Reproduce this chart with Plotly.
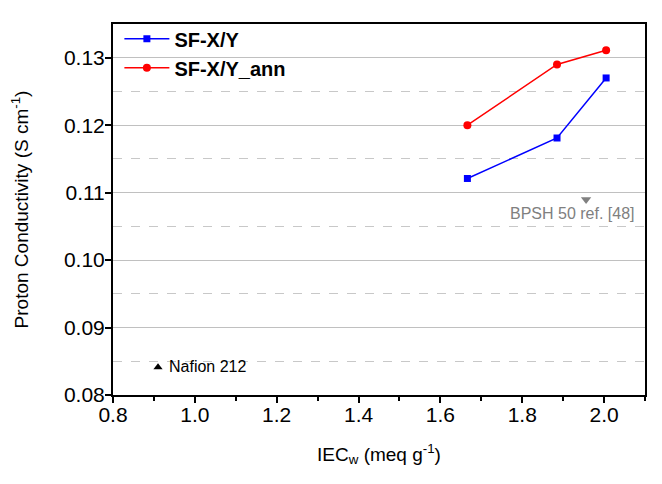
import plotly.graph_objects as go

# IEC_w (meq/g) and proton conductivity (S/cm)
iec = [1.666, 1.885, 2.005]
sfxy = [0.1121, 0.1181, 0.1270]
sfxy_ann = [0.1200, 0.1290, 0.1311]

nafion_x = [0.91]
nafion_y = [0.0841]
bpsh_x = [1.956]
bpsh_y = [0.1090]

FONT = "Liberation Sans, Arial, sans-serif"

fig = go.Figure()

fig.add_trace(go.Scatter(
    x=iec, y=sfxy, name="SF-X/Y", mode="lines+markers",
    line=dict(color="#0000ff", width=1.5),
    marker=dict(symbol="square", size=7, color="#0000ff")))

fig.add_trace(go.Scatter(
    x=iec, y=sfxy_ann, name="SF-X/Y_ann", mode="lines+markers",
    line=dict(color="#ff0000", width=1.5),
    marker=dict(symbol="circle", size=8, color="#ff0000")))

# reference points
fig.add_trace(go.Scatter(
    x=nafion_x, y=nafion_y, mode="markers", showlegend=False,
    marker=dict(symbol="triangle-up", size=8, color="black")))

fig.add_annotation(x=nafion_x[0], y=nafion_y[0], text="Nafion 212",
                   showarrow=False, xanchor="left", yanchor="middle", xshift=9, yshift=1,
                   font=dict(family=FONT, size=16, color="black"))

fig.add_trace(go.Scatter(
    x=bpsh_x, y=bpsh_y, mode="markers", showlegend=False,
    marker=dict(symbol="triangle-down", size=9, color="#808080")))

fig.add_annotation(x=bpsh_x[0], y=bpsh_y[0], text="BPSH 50 ref. [48]",
                   showarrow=False, xanchor="center", yanchor="top", xshift=-14, yshift=-4,
                   font=dict(family=FONT, size=16, color="#808080"))

# page body adds an 8px offset, margins compensate
fig.update_layout(
    width=662, height=484,
    margin=dict(l=105, r=25, t=15, b=97),
    paper_bgcolor="white", plot_bgcolor="white",
    font=dict(family=FONT, size=19, color="black"),
    legend=dict(x=0.012, y=1.01, xanchor="left", yanchor="top",
                bgcolor="rgba(0,0,0,0)", tracegroupgap=0, itemwidth=45,
                font=dict(family=FONT, size=20, color="black", weight="bold")),
)

fig.update_xaxes(
    range=[0.8, 2.1], dtick=0.2, tick0=0.8, tickformat=".1f",
    showgrid=False, zeroline=False,
    showline=True, linecolor="black", linewidth=2, mirror=True,
    ticks="outside", ticklen=6, tickwidth=2, tickcolor="black",
    minor=dict(dtick=0.1, ticks="outside", ticklen=4, tickwidth=2, tickcolor="black"),
    tickfont=dict(size=21), ticklabelstandoff=-6,
    title=dict(text="IEC<sub>w</sub> (meq g<sup>-1</sup>)", font=dict(size=19), standoff=22),
)

fig.update_yaxes(
    range=[0.08, 0.135], dtick=0.01, tick0=0.08, tickformat=".2f",
    showgrid=True, gridcolor="#c0c0c0", gridwidth=1, zeroline=False,
    showline=True, linecolor="black", linewidth=2, mirror=True,
    ticks="outside", ticklen=6, tickwidth=2, tickcolor="black",
    minor=dict(dtick=0.005, ticks="", showgrid=True, gridcolor="#c8c8c8",
               griddash="dash", gridwidth=1),
    tickfont=dict(size=21), ticklabelstandoff=-4,
    title=dict(text="Proton Conductivity (S cm<sup>-1</sup>)", font=dict(size=19), standoff=30),
)

fig.write_html("out.html")
